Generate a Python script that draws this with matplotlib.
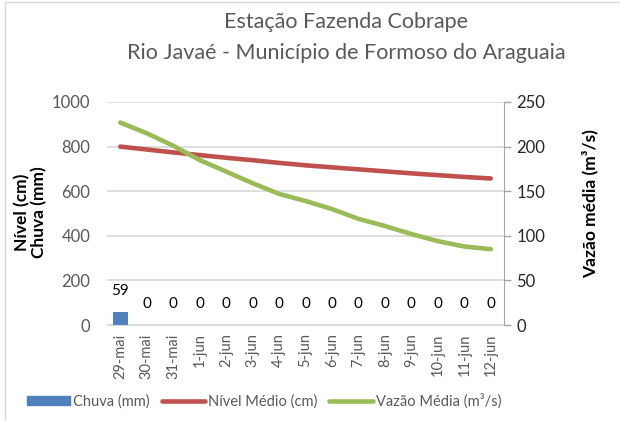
import numpy as np
import matplotlib.pyplot as plt
from matplotlib.patches import Patch
from matplotlib.lines import Line2D

plt.rcParams['font.family'] = ['Lato', 'DejaVu Sans']

# data
dias = ['29-mai', '30-mai', '31-mai', '1-jun', '2-jun', '3-jun', '4-jun', '5-jun',
        '6-jun', '7-jun', '8-jun', '9-jun', '10-jun', '11-jun', '12-jun']
chuva = [59, 0, 0, 0, 0, 0, 0, 0, 0, 0, 0, 0, 0, 0, 0]
nivel = [800, 787, 774, 762, 750, 739, 727, 716, 707, 698, 689, 680, 672, 664, 657]
vazao = [227, 215, 201, 185, 172, 159, 147, 139, 130, 119, 111, 102, 94, 88, 85]

GRAY = '#595959'
BLUE = '#4f81bd'
RED = '#c0504d'
GREEN = '#9bbb59'

W, H = 620, 421
fig = plt.figure(figsize=(W / 100, H / 100), dpi=100)
ax = fig.add_axes([107 / W, 1 - 325 / H, (504 - 107) / W, (325 - 102) / H])
ax2 = ax.twinx()

x = np.arange(len(dias))
ax.bar(x, chuva, width=0.57, color=BLUE, zorder=2)
ax.plot(x, nivel, color=RED, lw=3.3, solid_capstyle='round', zorder=3)
ax2.plot(x, vazao, color=GREEN, lw=3.3, solid_capstyle='round', zorder=3)

# data labels for rain
for xi, v in zip(x, chuva):
    ax.annotate(str(v), (xi, v), xytext=(0, 15), textcoords='offset points',
                ha='center', va='center', fontsize=11, color='black')

ax.set_xlim(-0.5, len(dias) - 0.5)
ax.set_ylim(0, 1000)
ax2.set_ylim(0, 250)
ax.set_yticks(range(0, 1001, 200))
ax2.set_yticks(range(0, 251, 50))
ax.grid(axis='y', color='#d9d9d9', lw=1.2, zorder=0)
ax.set_axisbelow(True)

ax.set_xticks(x)
ax.set_xticklabels(dias, rotation=90, fontsize=10.5, color=GRAY)
ax.tick_params(axis='x', length=0, pad=6)
ax.tick_params(axis='y', length=0, labelsize=12, labelcolor=GRAY, pad=12)
ax2.tick_params(axis='y', length=5, width=1, color='#a6a6a6', labelsize=12,
                labelcolor='#262626', pad=4)

for s in ['top', 'left', 'right']:
    ax.spines[s].set_visible(False)
ax.spines['bottom'].set_color('#d9d9d9')
for s in ['top', 'left', 'bottom']:
    ax2.spines[s].set_visible(False)
ax2.spines['right'].set_color('#a6a6a6')

fig.text(346 / W, 1 - 22 / H, 'Estação Fazenda Cobrape', ha='center', va='center',
         fontsize=15.5, color=GRAY)
fig.text(346 / W, 1 - 53 / H, 'Rio Javaé - Município de Formoso do Araguaia',
         ha='center', va='center', fontsize=15.5, color=GRAY)

fig.text(31 / W, 1 - 212 / H, 'Nível (cm)\nChuva (mm)', rotation=90, ha='center',
         va='center', fontsize=12.5, fontweight='bold', linespacing=1.05)
fig.text(590 / W, 1 - 204 / H, 'Vazão média (m³/s)', rotation=90, ha='center',
         va='center', fontsize=12.5, fontweight='bold')

handles = [Patch(color=BLUE),
           Line2D([], [], color=RED, lw=3.3, solid_capstyle='round'),
           Line2D([], [], color=GREEN, lw=3.3, solid_capstyle='round')]
labels = ['Chuva (mm)', 'Nível Médio (cm)', 'Vazão Média (m³/s)']
leg = fig.legend(handles, labels, loc='center', bbox_to_anchor=(264 / W, 1 - 401 / H),
                 ncol=3, frameon=False, fontsize=10.5, handlelength=3.0,
                 handleheight=0.55, handletextpad=0.2, columnspacing=0.8)
for t in leg.get_texts():
    t.set_color(GRAY)

# chart frame edges visible in the reference
fig.add_artist(Line2D([5 / W, 5 / W], [0, 1 - 2 / H], color='#d9d9d9', lw=1))
fig.add_artist(Line2D([5 / W, 1], [1 - 2 / H, 1 - 2 / H], color='#d9d9d9', lw=1))

fig.savefig('out.png', dpi=100)
